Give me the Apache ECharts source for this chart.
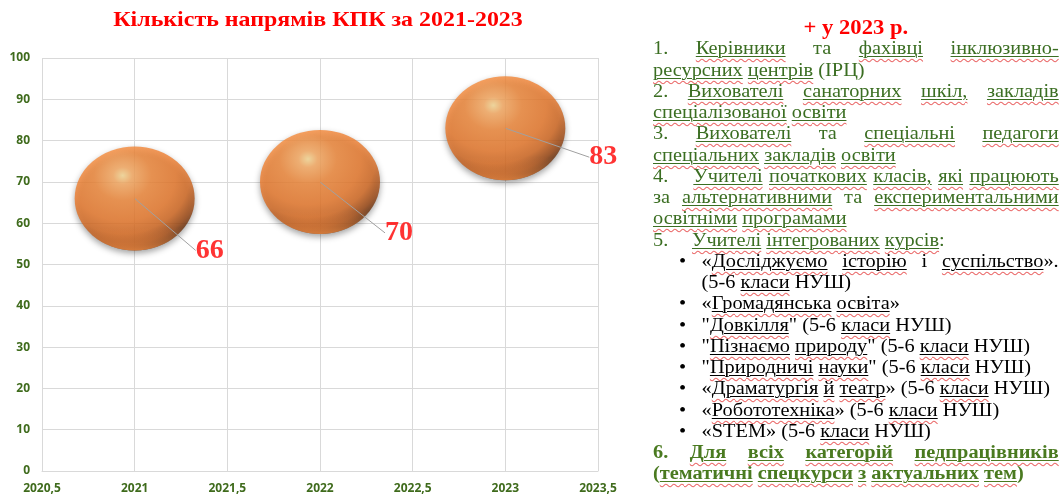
<!DOCTYPE html>
<html>
<head>
    <meta charset="utf-8" />
    <title>Кількість напрямів КПК</title>
    <style>
        html, body { margin: 0; padding: 0; background: #fff; }
        #wrap { position: relative; width: 1062px; height: 496px; overflow: hidden; }
        #bubble { position: absolute; left: 0; top: 0; width: 1062px; height: 496px; }
        #panel {
            position: absolute; left: 653px; top: 17px; width: 359px;
            transform: scaleX(1.13); transform-origin: left top;
            font-family: "Liberation Serif", "DejaVu Serif", serif;
            font-size: 18px; line-height: 21.25px; color: #3b6e22;
        }
        #panel .head { text-align: center; color: #ff0000; font-weight: bold; font-size: 20px; }
        #panel .ln { white-space: nowrap; }
        #panel .j { text-align: justify; text-align-last: justify; white-space: normal; }
        #panel .b { color: #000; padding-left: 43px; position: relative; }
        #panel .b.dot::before { content: "•"; position: absolute; left: 23px; }
        #panel .bold { font-weight: bold; color: #4a7a20; }
        #panel .num { display: inline-block; width: 30px; }
        .u { text-decoration: underline solid; text-decoration-thickness: 1px; text-underline-offset: 2px; }
        .w { text-decoration: underline wavy rgba(225, 40, 40, 0.7); text-decoration-thickness: 1px; text-underline-offset: 4px; }
    </style>
</head>
<body>
<div id="wrap">
    <div id="bubble"></div>
    <div id="panel"></div>
</div>
<script src="https://cdn.jsdelivr.net/npm/echarts@6/dist/echarts.min.js"></script>
<script>
    // дані діаграми
    var years = [2021, 2022, 2023];
    var counts = [66, 70, 83];
    var chartTitle = 'Кількість напрямів КПК за 2021-2023';

    // текст праворуч: [слово] — підкреслене
    var panelHead = '+ у 2023 р.';
    var panelLines = [
        { t: '1. [Керівники] та [фахівці] [інклюзивно-]', c: 'j' },
        { t: '[ресурсних] [центрів] (ІРЦ)', c: '' },
        { t: '2. [Вихователі] [санаторних] [шкіл,] [закладів]', c: 'j' },
        { t: '[спеціалізованої] [освіти]', c: '' },
        { t: '3. [Вихователі] та [спеціальні] [педагоги]', c: 'j' },
        { t: '[спеціальних] [закладів] [освіти]', c: '' },
        { t: '4.| [Учителі] [початкових] [класів,] [які] [працюють]', c: 'j' },
        { t: 'за [альтернативними] та [експериментальними]', c: 'j' },
        { t: '[освітніми] [програмами]', c: '' },
        { t: '5.| [Учителі] [інтегрованих] [курсів]:', c: '' },
        { t: '«[Досліджуємо] [історію] і [суспільство]».', c: 'b dot j' },
        { t: '(5-6 [класи] НУШ)', c: 'b' },
        { t: '«[Громадянська] [освіта]»', c: 'b dot' },
        { t: '"[Довкілля]" (5-6 [класи] НУШ)', c: 'b dot' },
        { t: '"[Пізнаємо] [природу]" (5-6 [класи] НУШ)', c: 'b dot' },
        { t: '"[Природничі] [науки]" (5-6 [класи] НУШ)', c: 'b dot' },
        { t: '«[Драматургія] [й] [театр]» (5-6 [класи] НУШ)', c: 'b dot' },
        { t: '«[Робототехніка]» (5-6 [класи] НУШ)', c: 'b dot' },
        { t: '«STEM» (5-6 [класи] НУШ)', c: 'b dot' },
        { t: '6. [Для] [всіх] [категорій] [педпрацівників]', c: 'bold j' },
        { t: '([тематичні] [спецкурси] [з] [актуальних] [тем])', c: 'bold' }
    ];

    function markup(s) {
        s = s.replace(/^(\d\.)\|/, '<span class="num">$1</span>');
        return s.replace(/\[([^\]]+)\]/g, '<span class="u"><span class="w">$1</span></span>');
    }

    var html = '<div class="head">' + panelHead + '</div>';
    panelLines.forEach(function (l) {
        html += '<div class="ln ' + l.c + '">' + markup(l.t) + '</div>';
    });
    document.getElementById('panel').innerHTML = html;

    var points = years.map(function (y, i) { return [y, counts[i]]; });

    // зсув підписів відносно центру кулі
    var labelShift = [[75, 52], [79, 51], [98, 29]];

    var axisLabelStyle = {
        color: '#3f6b1c',
        fontWeight: 'bold',
        fontSize: 12,
        fontFamily: 'Open Sans, Liberation Sans, sans-serif'
    };

    var ballSize = [120, 104];

    var myChart = echarts.init(document.getElementById('bubble'));
    var option = {
        backgroundColor: 'transparent',
        graphic: [{
            type: 'text',
            x: 318,
            y: 21,
            scaleX: 1.14,
            style: {
                text: chartTitle,
                textAlign: 'center',
                textVerticalAlign: 'middle',
                fill: '#ff0000',
                font: 'bold 21px "Liberation Serif", "DejaVu Serif", serif'
            }
        }],
        grid: { left: 42, right: 464, top: 58, bottom: 25 },
        xAxis: {
            type: 'value',
            min: 2020.5,
            max: 2023.5,
            interval: 0.5,
            axisLine: { show: true, lineStyle: { color: '#d9d9d9' } },
            axisTick: { show: false },
            splitLine: { show: true, lineStyle: { color: '#d9d9d9' } },
            axisLabel: Object.assign({
                margin: 12,
                formatter: function (v) { return String(v).replace('.', ','); }
            }, axisLabelStyle)
        },
        yAxis: {
            type: 'value',
            min: 0,
            max: 100,
            interval: 10,
            axisLine: { show: false },
            axisTick: { show: false },
            splitLine: { show: true, lineStyle: { color: '#d9d9d9' } },
            axisLabel: Object.assign({ margin: 12 }, axisLabelStyle)
        },
        series: [
            {
                type: 'scatter',
                data: points,
                symbol: 'circle',
                symbolSize: ballSize,
                itemStyle: {
                    color: {
                        type: 'radial',
                        x: 0.4, y: 0.28, r: 0.8,
                        colorStops: [
                            { offset: 0, color: '#ffe09a' },
                            { offset: 0.1, color: '#ffb066' },
                            { offset: 0.3, color: '#f68c3c' },
                            { offset: 0.55, color: '#ee7c2d' },
                            { offset: 0.7, color: '#d86b22' },
                            { offset: 0.83, color: '#9c4712' },
                            { offset: 0.93, color: '#4a2006' },
                            { offset: 1, color: '#2a1003' }
                        ]
                    },
                    shadowBlur: 6,
                    shadowColor: 'rgba(0,0,0,0.45)',
                    shadowOffsetY: 3
                },
                z: 2
            },
            {
                // світлий відблиск по нижньому краю кулі
                type: 'scatter',
                data: points,
                symbol: 'circle',
                symbolSize: ballSize,
                silent: true,
                itemStyle: {
                    color: {
                        type: 'linear',
                        x: 0, y: 0, x2: 0, y2: 1,
                        colorStops: [
                            { offset: 0, color: 'rgba(240,130,55,0)' },
                            { offset: 0.78, color: 'rgba(240,130,55,0)' },
                            { offset: 0.92, color: 'rgba(242,135,60,0.55)' },
                            { offset: 1, color: 'rgba(245,140,65,0.95)' }
                        ]
                    }
                },
                z: 3
            },
            {
                type: 'scatter',
                data: points,
                symbolSize: 1,
                itemStyle: { color: 'rgba(0,0,0,0)' },
                label: {
                    show: true,
                    position: 'inside',
                    formatter: function (p) { return p.value[1]; },
                    color: '#ff0000',
                    fontSize: 28,
                    fontWeight: 'bold',
                    fontFamily: 'Liberation Serif, DejaVu Serif, serif'
                },
                labelLine: {
                    show: true,
                    lineStyle: { color: '#a0a0a0', width: 1 }
                },
                labelLayout: function (p) {
                    var s = labelShift[p.dataIndex];
                    return { dx: s[0], dy: s[1] };
                },
                z: 5
            }
        ]
    };
    myChart.setOption(option);
</script>
</body>
</html>
